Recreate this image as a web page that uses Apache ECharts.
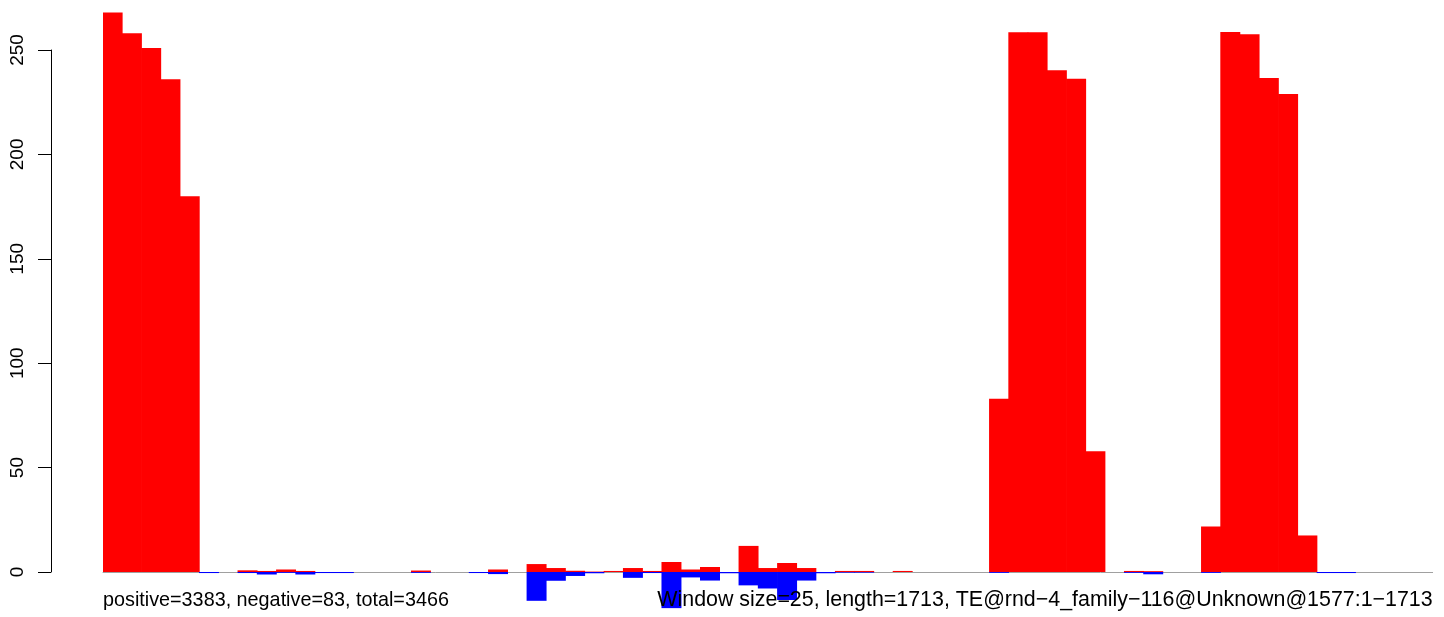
<!DOCTYPE html>
<html>
<head>
<meta charset="utf-8">
<script src="https://cdn.jsdelivr.net/npm/echarts@6/dist/echarts.min.js"></script>
<style>
  html, body { margin: 0; padding: 0; background: #fff; }
  #chart { width: 1444px; height: 617px; }
</style>
</head>
<body>
<div id="chart"></div>
<script>
// 69 windows of 25 bp along the 1713 bp element
const windows = Array.from({ length: 69 }, (_, i) => i + 1);

// per-window values
const positive = [
  268, 258, 251, 236, 180, 0, 0, 0.8, 0.5, 1.2,
  0.5, 0, 0, 0, 0, 0, 0.7, 0, 0, 0,
  1.2, 0, 3.8, 1.9, 0.6, 0.2, 0.5, 1.9, 0.5, 4.8,
  1.2, 2.4, 0, 12.5, 1.9, 4.3, 1.9, 0, 0.5, 0.5,
  0, 0.5, 0, 0, 0, 0, 83, 258.5, 258.5, 240.3,
  236.2, 57.8, 0, 0.5, 0.4, 0, 0, 21.8, 258.6, 257.6,
  236.6, 228.9, 17.5, 0, 0, 0, 0, 0, 0
];
const negative = [
  0, 0, 0, 0, 0, -0.5, 0, -0.5, -1.2, -0.4,
  -1.2, -0.5, -0.5, 0, 0, 0, -0.4, 0, 0, -0.5,
  -1, 0, -13.8, -4.2, -1.9, -0.6, 0, -2.8, -0.5, -17.3,
  -2.6, -4.1, -0.6, -6.4, -7.9, -13.4, -4.1, -0.6, -0.3, -0.3,
  0, 0, 0, 0, 0, 0, -0.4, 0, 0, 0,
  0, 0, 0, -0.4, -1.1, 0, 0, -0.4, 0, 0,
  0, 0, 0, -0.5, -0.5, 0, 0, 0, 0
];
const yTicks = [0, 50, 100, 150, 200, 250];

const leftNote = "positive=3383, negative=83, total=3466";
const rightNote = "Window size=25, length=1713, TE@rnd\u22124_family\u2212116@Unknown@1577:1\u22121713";

// y scale: 0 sits at y=572, about 2.088 px per unit
const zeroY = 572;
const pxPerUnit = 2.088;
const yMin = -20, yMax = 270;
const slot = 19.27; // px per window
const fontFam = "'Liberation Sans', Arial, sans-serif";

// empty windows draw nothing
const asBars = (arr) => arr.map((v) => (v === 0 ? "-" : v));

const chart = echarts.init(document.getElementById("chart"), null, { renderer: "canvas" });

chart.setOption({
  animation: false,
  backgroundColor: "#fff",
  title: [
    {
      text: leftNote, left: 103, top: 591, padding: 0,
      textStyle: { fontFamily: fontFam, fontSize: 19.8, fontWeight: "normal", color: "#000" }
    },
    {
      text: rightNote, right: 11.4, top: 590, padding: 0,
      textStyle: { fontFamily: fontFam, fontSize: 21.4, fontWeight: "normal", color: "#000" }
    }
  ],
  grid: [
    {
      left: 103, width: windows.length * slot,
      top: zeroY - yMax * pxPerUnit,
      height: (yMax - yMin) * pxPerUnit
    },
    {
      left: 51, width: 1,
      top: zeroY - yTicks[yTicks.length - 1] * pxPerUnit,
      height: yTicks[yTicks.length - 1] * pxPerUnit
    }
  ],
  xAxis: [
    {
      type: "category", data: windows, gridIndex: 0,
      axisLine: { onZero: true, lineStyle: { color: "#a0a0a0", width: 1 } },
      axisTick: { show: false }, axisLabel: { show: false }, splitLine: { show: false }
    },
    { type: "value", gridIndex: 1, show: false }
  ],
  yAxis: [
    {
      type: "value", gridIndex: 0, min: yMin, max: yMax, show: false
    },
    {
      type: "value", gridIndex: 1, position: "left",
      min: 0, max: 250, interval: 50,
      axisLine: { show: true, lineStyle: { color: "#000", width: 1 } },
      axisTick: { show: true, length: 13, lineStyle: { color: "#000", width: 1 } },
      axisLabel: {
        rotate: 90, margin: 24, color: "#000",
        fontFamily: fontFam, fontSize: 19
      },
      splitLine: { show: false }
    }
  ],
  series: [
    {
      name: "positive", type: "bar", data: asBars(positive),
      xAxisIndex: 0, yAxisIndex: 0,
      barWidth: slot + 0.7, barGap: "-100%",
      itemStyle: { color: "#ff0000" }
    },
    {
      name: "negative", type: "bar", data: asBars(negative),
      xAxisIndex: 0, yAxisIndex: 0,
      barWidth: slot + 0.7, barGap: "-100%",
      itemStyle: { color: "#0000ff" }
    }
  ]
});
</script>
</body>
</html>
